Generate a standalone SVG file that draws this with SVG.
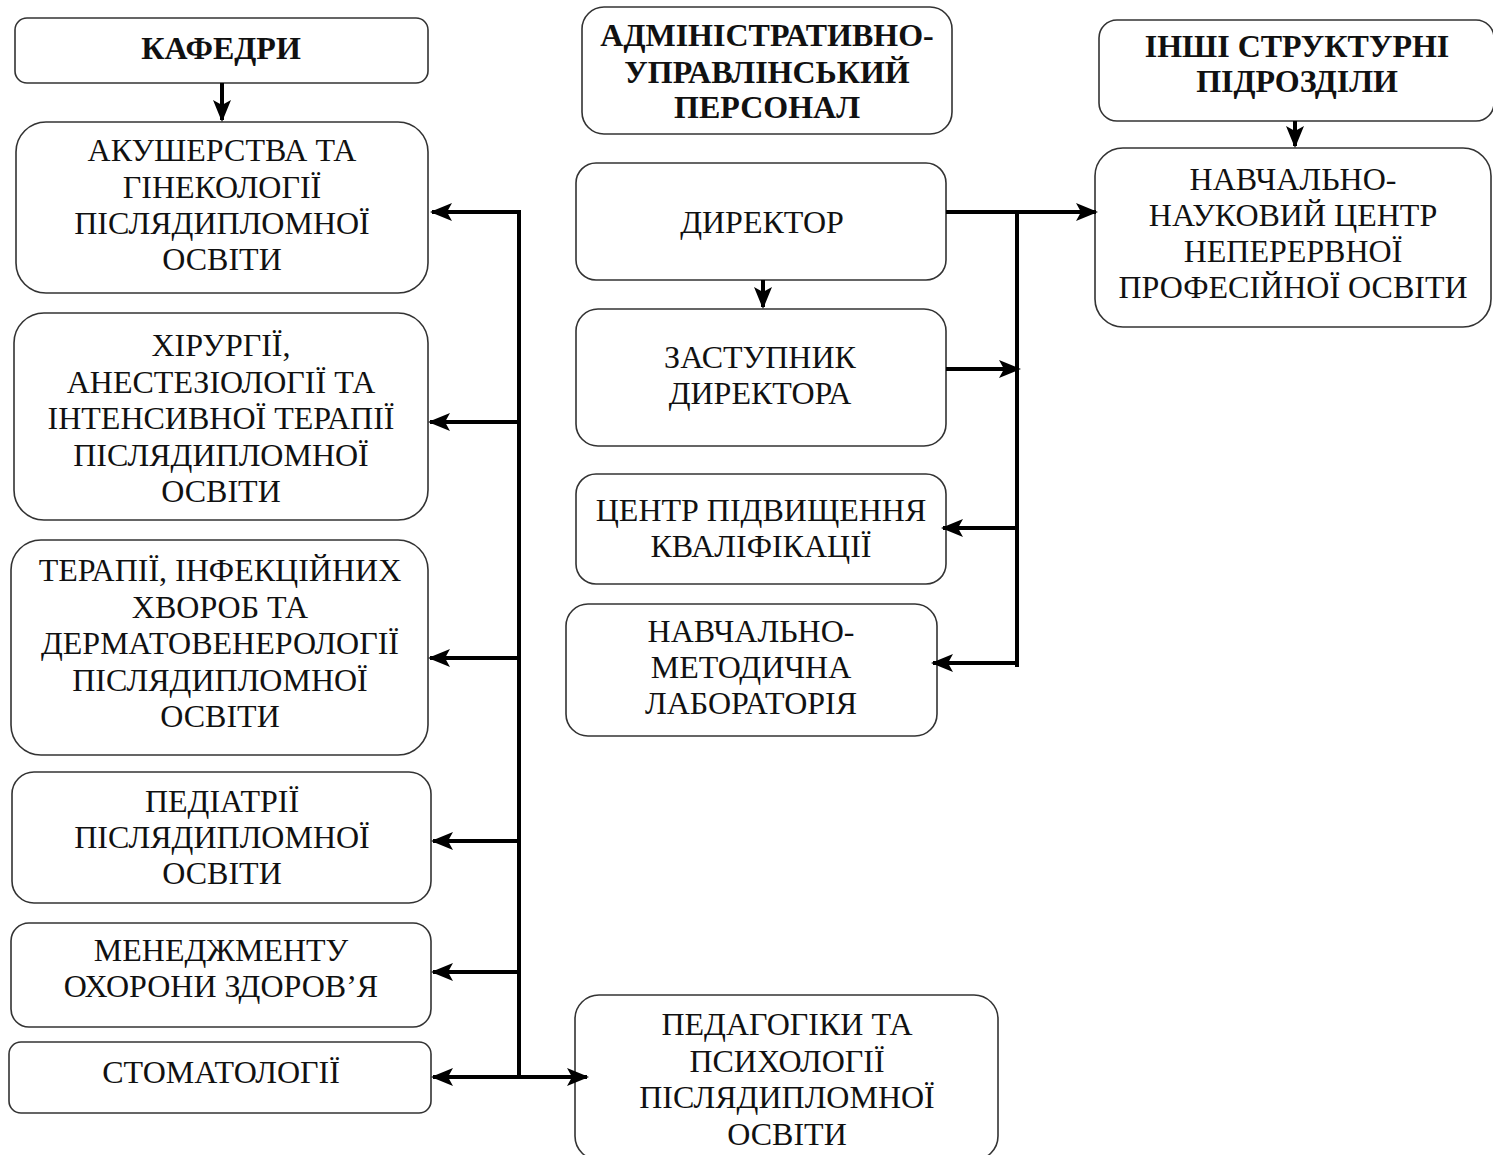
<svg xmlns="http://www.w3.org/2000/svg" width="1493" height="1155" viewBox="0 0 1493 1155">
<style>
.b{fill:#fff;stroke:#333;stroke-width:1.6}
.t{font-family:"Liberation Serif","Times New Roman",serif;font-size:32px;fill:#111;text-anchor:middle}
.h{font-weight:bold}
.c{fill:none;stroke:#000;stroke-width:4}
</style>
<defs>
<marker id="a" markerUnits="userSpaceOnUse" markerWidth="22" markerHeight="18" refX="20" refY="9" orient="auto">
<path d="M0,0 L22,9 L0,18 L5,9 Z" fill="#000"/>
</marker>
</defs>
<rect width="1493" height="1155" fill="#fff"/>
<g id="kafedry"><rect class="b" x="15" y="18" width="413" height="65" rx="12"/><text class="t h" x="221" y="59">КАФЕДРИ</text></g>
<g id="akush"><rect class="b" x="16" y="122" width="412" height="171" rx="30"/><text class="t"><tspan x="222" y="161">АКУШЕРСТВА ТА</tspan><tspan x="222" y="198">ГІНЕКОЛОГІЇ</tspan><tspan x="222" y="234">ПІСЛЯДИПЛОМНОЇ</tspan><tspan x="222" y="270">ОСВІТИ</tspan></text></g>
<g id="khirurg"><rect class="b" x="14" y="313" width="414" height="207" rx="30"/><text class="t"><tspan x="221" y="356">ХІРУРГІЇ,</tspan><tspan x="221" y="393">АНЕСТЕЗІОЛОГІЇ ТА</tspan><tspan x="221" y="429">ІНТЕНСИВНОЇ ТЕРАПІЇ</tspan><tspan x="221" y="466">ПІСЛЯДИПЛОМНОЇ</tspan><tspan x="221" y="502">ОСВІТИ</tspan></text></g>
<g id="terapii"><rect class="b" x="11" y="540" width="417" height="215" rx="30"/><text class="t"><tspan x="220" y="581">ТЕРАПІЇ, ІНФЕКЦІЙНИХ</tspan><tspan x="220" y="618">ХВОРОБ ТА</tspan><tspan x="220" y="654">ДЕРМАТОВЕНЕРОЛОГІЇ</tspan><tspan x="220" y="691">ПІСЛЯДИПЛОМНОЇ</tspan><tspan x="220" y="727">ОСВІТИ</tspan></text></g>
<g id="pediatrii"><rect class="b" x="12" y="772" width="419" height="131" rx="22"/><text class="t"><tspan x="222" y="812">ПЕДІАТРІЇ</tspan><tspan x="222" y="848">ПІСЛЯДИПЛОМНОЇ</tspan><tspan x="222" y="884">ОСВІТИ</tspan></text></g>
<g id="menedzh"><rect class="b" x="11" y="923" width="420" height="104" rx="18"/><text class="t"><tspan x="221" y="961">МЕНЕДЖМЕНТУ</tspan><tspan x="221" y="997">ОХОРОНИ ЗДОРОВ’Я</tspan></text></g>
<g id="stomat"><rect class="b" x="9" y="1042" width="422" height="71" rx="12"/><text class="t" x="221" y="1083">СТОМАТОЛОГІЇ</text></g>
<g id="admin"><rect class="b" x="582" y="7" width="370" height="127" rx="22"/><text class="t h"><tspan x="767" y="46">АДМІНІСТРАТИВНО-</tspan><tspan x="767" y="83">УПРАВЛІНСЬКИЙ</tspan><tspan x="767" y="118">ПЕРСОНАЛ</tspan></text></g>
<g id="dyrektor"><rect class="b" x="576" y="163" width="370" height="117" rx="20"/><text class="t" x="762" y="233">ДИРЕКТОР</text></g>
<g id="zastupnyk"><rect class="b" x="576" y="309" width="370" height="137" rx="22"/><text class="t"><tspan x="760" y="368">ЗАСТУПНИК</tspan><tspan x="760" y="404">ДИРЕКТОРА</tspan></text></g>
<g id="tsentr"><rect class="b" x="576" y="474" width="370" height="110" rx="20"/><text class="t"><tspan x="761" y="521">ЦЕНТР ПІДВИЩЕННЯ</tspan><tspan x="761" y="557">КВАЛІФІКАЦІЇ</tspan></text></g>
<g id="lab"><rect class="b" x="566" y="604" width="371" height="132" rx="22"/><text class="t"><tspan x="751" y="642">НАВЧАЛЬНО-</tspan><tspan x="751" y="678">МЕТОДИЧНА</tspan><tspan x="751" y="714">ЛАБОРАТОРІЯ</tspan></text></g>
<g id="pedagog"><rect class="b" x="575" y="995" width="423" height="165" rx="24"/><text class="t"><tspan x="787" y="1035">ПЕДАГОГІКИ ТА</tspan><tspan x="787" y="1072">ПСИХОЛОГІЇ</tspan><tspan x="787" y="1108">ПІСЛЯДИПЛОМНОЇ</tspan><tspan x="787" y="1145">ОСВІТИ</tspan></text></g>
<g id="inshi"><rect class="b" x="1099" y="20" width="395" height="101" rx="18"/><text class="t h"><tspan x="1297" y="57">ІНШІ СТРУКТУРНІ</tspan><tspan x="1297" y="92">ПІДРОЗДІЛИ</tspan></text></g>
<g id="nntsentr"><rect class="b" x="1095" y="148" width="396" height="179" rx="28"/><text class="t"><tspan x="1293" y="190">НАВЧАЛЬНО-</tspan><tspan x="1293" y="226">НАУКОВИЙ ЦЕНТР</tspan><tspan x="1293" y="262">НЕПЕРЕРВНОЇ</tspan><tspan x="1293" y="298">ПРОФЕСІЙНОЇ ОСВІТИ</tspan></text></g>
<g id="connectors">
<path class="c" d="M519,1077 V210"/>
<path class="c" d="M521,212 H432" marker-end="url(#a)"/>
<path class="c" d="M519,422 H430" marker-end="url(#a)"/>
<path class="c" d="M519,658 H430" marker-end="url(#a)"/>
<path class="c" d="M519,841 H433" marker-end="url(#a)"/>
<path class="c" d="M519,972 H433" marker-end="url(#a)"/>
<path class="c" d="M519,1077 H433" marker-end="url(#a)"/>
<path class="c" d="M519,1077 H587" marker-end="url(#a)"/>
<path class="c" d="M222,83 V120" marker-end="url(#a)"/>
<path class="c" d="M763,280 V307" marker-end="url(#a)"/>
<path class="c" d="M946,212 H1096" marker-end="url(#a)"/>
<path class="c" d="M1017,212 V665 H1015"/>
<path class="c" d="M946,369 H1019" marker-end="url(#a)"/>
<path class="c" d="M1017,528 H943" marker-end="url(#a)"/>
<path class="c" d="M1017,663 H933" marker-end="url(#a)"/>
<path class="c" d="M1295,121 V146" marker-end="url(#a)"/>
</g>
</svg>
